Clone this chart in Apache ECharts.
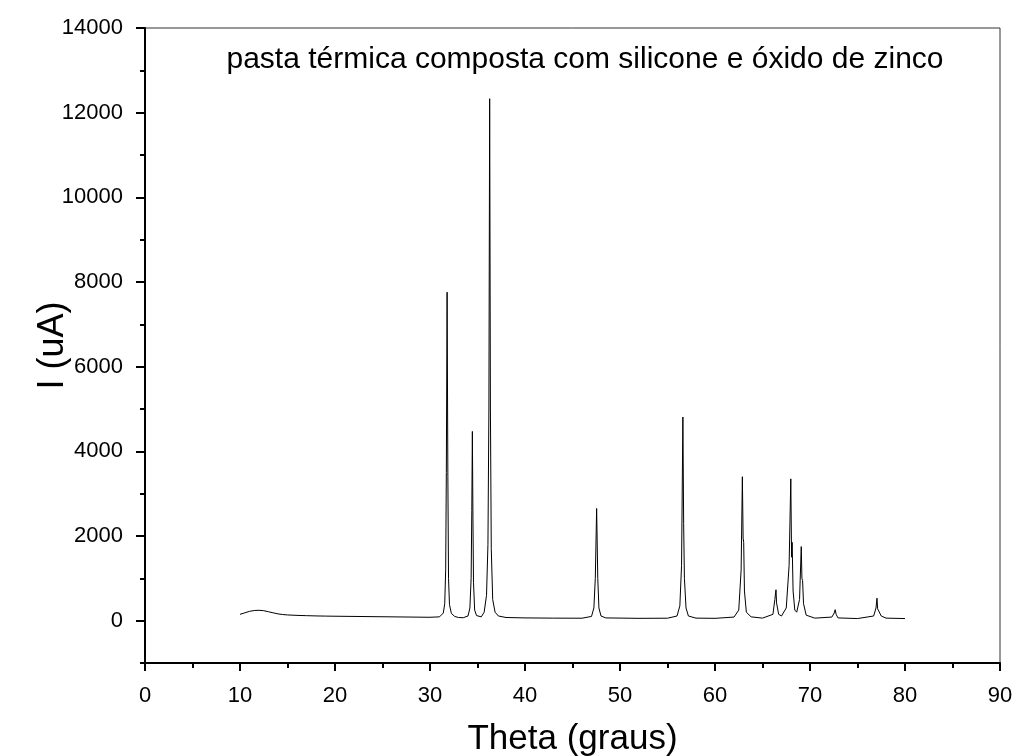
<!DOCTYPE html>
<html>
<head>
<meta charset="utf-8">
<script src="https://cdn.jsdelivr.net/npm/echarts@6/dist/echarts.min.js"></script>
<style>
  html, body { margin: 0; padding: 0; background: #fff; }
  #chart { width: 1016px; height: 756px; }
</style>
</head>
<body>
<div id="chart"></div>
<script>
// difratograma (theta em graus, intensidade em uA)
const theta = [
  10.0, 10.5, 11.0, 11.5, 12.0, 12.5, 13.0, 13.5, 14.0, 14.5, 15.0, 16.0, 17.0, 18.0, 19.0, 20.0,
  22.0, 24.0, 26.0, 28.0, 30.0, 31.0, 31.4, 31.55, 31.65, 31.72, 31.80, 31.88, 31.95, 32.05, 32.25,
  32.6, 33.0, 33.5, 34.0, 34.2, 34.33, 34.40, 34.46, 34.52, 34.58, 34.7, 34.9, 35.1, 35.4, 35.7,
  35.95, 36.10, 36.20, 36.28, 36.36, 36.45, 36.6, 36.85, 37.2, 38.0, 40.0, 43.0, 46.0, 47.0, 47.25,
  47.40, 47.54, 47.66, 47.78, 48.0, 48.5, 52.0, 55.0, 56.0, 56.3, 56.48, 56.62, 56.70, 56.78, 56.95,
  57.2, 58.0, 60.0, 62.0, 62.5, 62.75, 62.88, 62.96, 63.02, 63.1, 63.3, 63.8, 65.0, 66.1, 66.3,
  66.42, 66.48, 66.54, 66.7, 67.0, 67.5, 67.8, 67.98, 68.06, 68.12, 68.22, 68.4, 68.6, 68.9, 69.08,
  69.15, 69.22, 69.32, 69.6, 70.5, 72.3, 72.55, 72.65, 72.75, 72.95, 75.0, 76.7, 76.95, 77.05,
  77.12, 77.25, 77.5, 78.0, 80.0
];
const intensity = [
  150, 185, 220, 240, 245, 235, 210, 185, 160, 145, 135, 125, 118, 112, 108, 105,
  100, 95, 90, 85, 80, 90, 180, 400, 1200, 3500, 7760, 3400, 1000, 380, 170,
  100, 75, 70, 110, 300, 1000, 2600, 4470, 2400, 900, 250, 120, 80, 90, 200,
  600, 1800, 5000, 12330, 5000, 1700, 500, 200, 110, 75, 65, 60, 58, 100, 300,
  1000, 2650, 1000, 300, 110, 65, 55, 58, 110, 350, 1300, 4810, 2300, 1000, 300,
  110, 60, 55, 85, 250, 1200, 3400, 1950, 1850, 700, 200, 90, 60, 150, 500,
  730, 420, 380, 150, 110, 300, 1300, 3350, 1500, 1850, 700, 250, 200, 500, 1750,
  1000, 950, 400, 130, 60, 85, 180, 260, 150, 65, 50, 110, 300, 530,
  280, 250, 110, 60, 50
];
const yMajor = [0, 2000, 4000, 6000, 8000, 10000, 12000, 14000];
const yMinor = [-1000, 1000, 3000, 5000, 7000, 9000, 11000, 13000];
const titleText = 'pasta térmica composta com silicone e óxido de zinco';

const chart = echarts.init(document.getElementById('chart'));
const font = 'Liberation Sans, Arial, sans-serif';

chart.setOption({
  animation: false,
  backgroundColor: '#fff',
  textStyle: { fontFamily: font },
  title: {
    text: titleText,
    left: 580,
    top: 40,
    textAlign: 'center',
    textStyle: { fontFamily: font, fontSize: 30, fontWeight: 'normal', color: '#000' }
  },
  grid: {
    left: 145, right: 16, top: 28, bottom: 93,
    outerBoundsMode: 'none',
    show: true, borderColor: '#333', borderWidth: 1
  },
  xAxis: {
    type: 'value',
    min: 0,
    max: 90,
    interval: 10,
    name: 'Theta (graus)',
    nameLocation: 'middle',
    nameGap: 59,
    nameMoveOverlap: false,
    nameTextStyle: { fontFamily: font, fontSize: 35, color: '#000' },
    axisLine: { onZero: false, lineStyle: { color: '#000', width: 2 } },
    axisTick: { inside: false, length: 8, lineStyle: { color: '#000', width: 2 } },
    minorTick: { show: true, splitNumber: 2, length: 5, lineStyle: { color: '#000', width: 2 } },
    axisLabel: { margin: 22, fontFamily: font, fontSize: 22, color: '#000' },
    splitLine: { show: false }
  },
  yAxis: [
    {
      type: 'value',
      min: -1000,
      max: 14000,
      name: 'I (uA)',
      nameLocation: 'middle',
      nameGap: 74,
      nameMoveOverlap: false,
      nameTextStyle: { fontFamily: font, fontSize: 36, color: '#000' },
      axisLine: { onZero: false, lineStyle: { color: '#000', width: 2 } },
      axisTick: { customValues: yMajor, length: 9, lineStyle: { color: '#000', width: 2 } },
      axisLabel: {
        customValues: yMajor, margin: 22, fontFamily: font, fontSize: 22, color: '#000',
        formatter: v => String(v)
      },
      splitLine: { show: false }
    },
    {
      type: 'value',
      min: -1000,
      max: 14000,
      position: 'left',
      axisLine: { show: false, onZero: false },
      axisTick: { show: true, customValues: yMinor, length: 5, lineStyle: { color: '#000', width: 2 } },
      axisLabel: { show: false },
      splitLine: { show: false }
    }
  ],
  series: [
    {
      type: 'line',
      yAxisIndex: 0,
      data: theta.map((t, i) => [t, intensity[i]]),
      showSymbol: false,
      lineStyle: { color: '#000', width: 1 },
      silent: true
    }
  ]
});
</script>
</body>
</html>
